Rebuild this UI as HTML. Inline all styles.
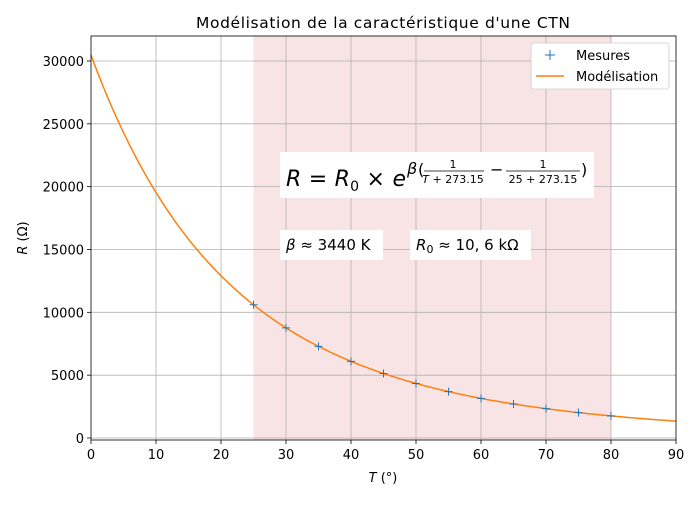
<!DOCTYPE html>
<html><head><meta charset="utf-8"><style>
body{margin:0;background:#fff;width:700px;height:500px;overflow:hidden}
svg text{font-family:"DejaVu Sans","Liberation Sans",sans-serif;fill:#000}
</style></head><body>
<svg id="s" width="700" height="500" xmlns="http://www.w3.org/2000/svg">
<rect x="253.5" y="36" width="357.5" height="404" fill="#f9e4e5"/>
<g id="grid" stroke="#b0b0b0" stroke-width="0.8"></g>
<path id="curve" fill="none" stroke="#ff7f0e" stroke-width="1.5"/>
<g id="marks" stroke="#1f77b4" stroke-width="1"></g>
<rect x="91" y="36" width="585" height="404" fill="none" stroke="#000" stroke-width="0.8"/>
<g id="ticks" stroke="#000" stroke-width="0.8"></g>
<g id="lbl" font-size="13"></g>
<text x="383" y="28" font-size="15.5" text-anchor="middle" textLength="374">Modélisation de la caractéristique d'une CTN</text>
<text x="383" y="482" font-size="13" text-anchor="middle"><tspan font-style="italic">T</tspan> (°)</text>
<text transform="translate(27,238) rotate(-90)" font-size="13" text-anchor="middle"><tspan font-style="italic">R</tspan> (Ω)</text>
<rect x="280" y="152" width="314" height="46" fill="#fff"/>
<text x="286" y="186" font-size="22" textLength="120"><tspan font-style="italic">R</tspan> = <tspan font-style="italic">R</tspan><tspan font-size="14" dy="5">0</tspan><tspan dy="-5"> × </tspan><tspan font-style="italic">e</tspan></text>
<text x="407" y="174" font-size="16" font-style="italic">β</text>
<text x="418" y="175" font-size="16">(</text>
<text x="453" y="168" font-size="11" text-anchor="middle">1</text>
<line x1="424" y1="171" x2="484" y2="171" stroke="#000" stroke-width="0.8"/>
<text x="453" y="183" font-size="11" text-anchor="middle"><tspan font-style="italic">T</tspan> + 273.15</text>
<text x="490" y="175" font-size="16">−</text>
<text x="543" y="168" font-size="11" text-anchor="middle">1</text>
<line x1="506" y1="171" x2="580" y2="171" stroke="#000" stroke-width="0.8"/>
<text x="543" y="183" font-size="11" text-anchor="middle">25 + 273.15</text>
<text x="581" y="175" font-size="16">)</text>
<rect x="280" y="230" width="103" height="30" fill="#fff"/>
<text x="286" y="250" font-size="15"><tspan font-style="italic">β</tspan> ≈ 3440 K</text>
<rect x="410" y="230" width="121" height="30" fill="#fff"/>
<text x="416" y="250" font-size="15"><tspan font-style="italic">R</tspan><tspan font-size="11" dy="3">0</tspan><tspan dy="-3"> ≈ 10, 6 kΩ</tspan></text>
<rect x="531" y="43" width="138" height="46" rx="3" fill="#fff" stroke="#ccc" stroke-width="0.8"/>
<path d="M545 55h10M550 50v10" stroke="#1f77b4" stroke-width="1"/>
<text x="576" y="60" font-size="13">Mesures</text>
<line x1="536" y1="76" x2="564" y2="76" stroke="#ff7f0e" stroke-width="1.5"/>
<text x="576" y="81" font-size="13">Modélisation</text>
</svg>
<script>
const X=t=>91+t*6.5, Y=r=>438-r*0.012567;
const R=t=>10600*Math.exp(3440*(1/(t+273.15)-1/298.15));
let g='',tk='',lb='';
for(let t=0;t<=90;t+=10){const x=X(t);if(t>0&&t<90)g+=`<line x1="${x}" y1="36" x2="${x}" y2="440"/>`;tk+=`<line x1="${x}" y1="440" x2="${x}" y2="444"/>`;lb+=`<text x="${x}" y="459" text-anchor="middle">${t}</text>`;}
for(let r=0;r<=30000;r+=5000){const y=Y(r);g+=`<line x1="91" y1="${y}" x2="676" y2="${y}"/>`;tk+=`<line x1="87" y1="${y}" x2="91" y2="${y}"/>`;lb+=`<text x="84" y="${y+5}" text-anchor="end">${r}</text>`;}
document.getElementById('grid').innerHTML=g;document.getElementById('ticks').innerHTML=tk;document.getElementById('lbl').innerHTML=lb;
let d='';for(let t=0;t<=90;t+=0.5)d+=(t?'L':'M')+X(t).toFixed(1)+' '+Y(R(t)).toFixed(1);
document.getElementById('curve').setAttribute('d',d);
let m='';for(let t=25;t<=80;t+=5){const x=X(t),y=Y(R(t));m+=`<path d="M${x-4} ${y}h8M${x} ${y-4}v8"/>`;}
document.getElementById('marks').innerHTML=m;
</script>
</body></html>
